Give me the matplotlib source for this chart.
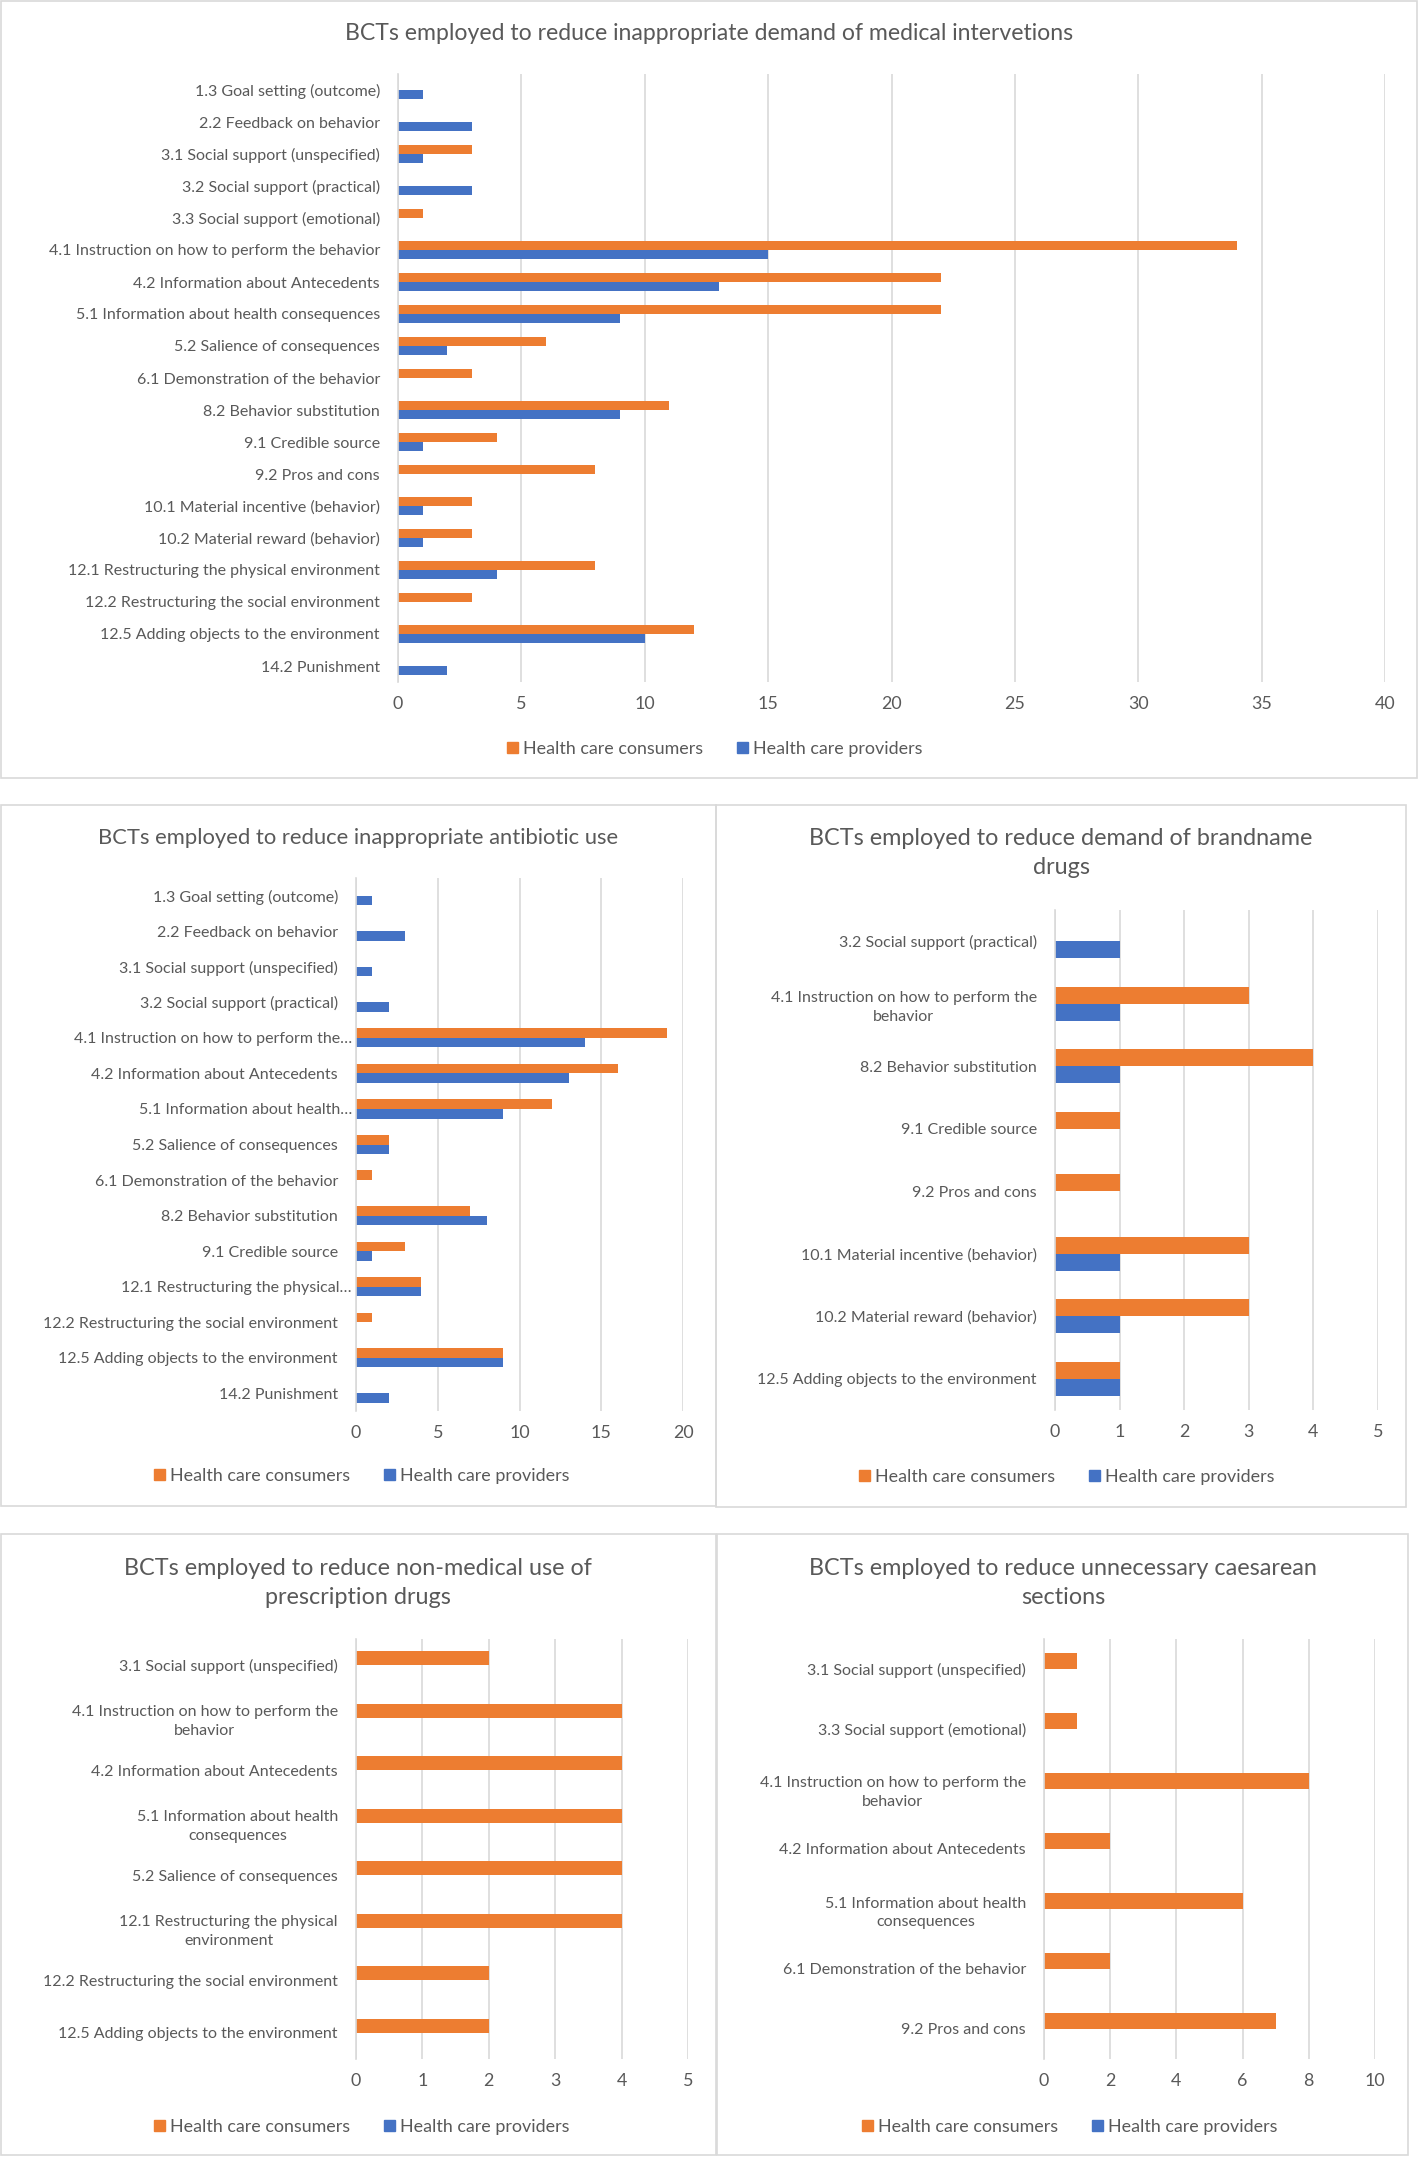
import matplotlib
matplotlib.use("Agg")
import matplotlib.pyplot as plt
from matplotlib.patches import Rectangle, Patch

plt.rcParams['font.family'] = ['Lato', 'DejaVu Sans']

# --- Data ---
cats_med = ["1.3 Goal setting (outcome)", "2.2 Feedback on behavior", "3.1 Social support (unspecified)",
            "3.2 Social support (practical)", "3.3 Social support (emotional)",
            "4.1 Instruction on how to perform the behavior", "4.2 Information about Antecedents",
            "5.1 Information about health consequences", "5.2 Salience of consequences",
            "6.1 Demonstration of the behavior", "8.2 Behavior substitution", "9.1 Credible source",
            "9.2 Pros and cons", "10.1 Material incentive (behavior)", "10.2 Material reward (behavior)",
            "12.1 Restructuring the physical environment", "12.2 Restructuring the social environment",
            "12.5 Adding objects to the environment", "14.2 Punishment"]
cons_med = [0, 0, 3, 0, 1, 34, 22, 22, 6, 3, 11, 4, 8, 3, 3, 8, 3, 12, 0]
prov_med = [1, 3, 1, 3, 0, 15, 13, 9, 2, 0, 9, 1, 0, 1, 1, 4, 0, 10, 2]

cats_abx = ["1.3 Goal setting (outcome)", "2.2 Feedback on behavior", "3.1 Social support (unspecified)",
            "3.2 Social support (practical)", "4.1 Instruction on how to perform the\u2026",
            "4.2 Information about Antecedents", "5.1 Information about health\u2026",
            "5.2 Salience of consequences", "6.1 Demonstration of the behavior", "8.2 Behavior substitution",
            "9.1 Credible source", "12.1 Restructuring the physical\u2026",
            "12.2 Restructuring the social environment", "12.5 Adding objects to the environment",
            "14.2 Punishment"]
cons_abx = [0, 0, 0, 0, 19, 16, 12, 2, 1, 7, 3, 4, 1, 9, 0]
prov_abx = [1, 3, 1, 2, 14, 13, 9, 2, 0, 8, 1, 4, 0, 9, 2]

cats_brand = ["3.2 Social support (practical)", "4.1 Instruction on how to perform the\nbehavior",
              "8.2 Behavior substitution", "9.1 Credible source", "9.2 Pros and cons",
              "10.1 Material incentive (behavior)", "10.2 Material reward (behavior)",
              "12.5 Adding objects to the environment"]
cons_brand = [0, 3, 4, 1, 1, 3, 3, 1]
prov_brand = [1, 1, 1, 0, 0, 1, 1, 1]

cats_rx = ["3.1 Social support (unspecified)", "4.1 Instruction on how to perform the\nbehavior",
           "4.2 Information about Antecedents", "5.1 Information about health\nconsequences",
           "5.2 Salience of consequences", "12.1 Restructuring the physical\nenvironment",
           "12.2 Restructuring the social environment", "12.5 Adding objects to the environment"]
cons_rx = [2, 4, 4, 4, 4, 4, 2, 2]
prov_rx = [0, 0, 0, 0, 0, 0, 0, 0]

cats_cs = ["3.1 Social support (unspecified)", "3.3 Social support (emotional)",
           "4.1 Instruction on how to perform the\nbehavior", "4.2 Information about Antecedents",
           "5.1 Information about health\nconsequences", "6.1 Demonstration of the behavior",
           "9.2 Pros and cons"]
cons_cs = [1, 1, 8, 2, 6, 2, 7]
prov_cs = [0, 0, 0, 0, 0, 0, 0]

ORANGE = "#ED7D31"
BLUE = "#4472C4"
TXT = "#595959"
GRID = "#D9D9D9"
W, H = 1419, 2157

fig = plt.figure(figsize=(W / 100, H / 100), dpi=100)


def fx(px):
    return px / W


def fy(py):
    return 1 - py / H


def panel(box, rect, title, title_xy, title_size, cats, cons, prov, xmax, step, legend_xy):
    # panel border
    x0, y0, x1, y1 = box
    fig.patches.append(Rectangle((fx(x0), fy(y1)), fx(x1 - x0), (y1 - y0) / H,
                                 transform=fig.transFigure, fill=False,
                                 edgecolor=GRID, lw=1.2))
    l, r, t, b = rect
    ax = fig.add_axes([fx(l), fy(b), fx(r - l), (b - t) / H])
    n = len(cats)
    ys = list(range(n))
    bw = 0.27
    ax.barh([y - bw / 2 for y in ys], cons, height=bw, color=ORANGE)
    ax.barh([y + bw / 2 for y in ys], prov, height=bw, color=BLUE)
    ax.set_ylim(n - 0.5, -0.5)
    ax.set_xlim(0, xmax)
    ax.set_xticks(range(0, xmax + 1, step))
    ax.set_yticks(ys)
    ax.set_yticklabels(cats, multialignment='center', linespacing=1.45)
    ax.tick_params(axis='both', length=0, colors=TXT)
    ax.tick_params(axis='x', pad=10, labelsize=12.9)
    ax.tick_params(axis='y', pad=13, labelsize=11.5)
    for tk, c in zip(ax.yaxis.get_major_ticks(), cats):
        if c.endswith("\u2026"):
            tk.set_pad(3)
    ax.grid(axis='x', color=GRID, lw=1.2)
    ax.set_axisbelow(True)
    for s in ['top', 'right', 'bottom']:
        ax.spines[s].set_visible(False)
    ax.spines['left'].set_color(GRID)
    ax.spines['left'].set_linewidth(1.2)
    fig.text(fx(title_xy[0]), fy(title_xy[1]), title, ha='center', va='center',
             fontsize=title_size, color=TXT, linespacing=1.45)
    handles = [Patch(color=ORANGE, label="Health care consumers"),
               Patch(color=BLUE, label="Health care providers")]
    fig.legend(handles=handles, loc='center', ncol=2,
               bbox_to_anchor=(fx(legend_xy[0]), fy(legend_xy[1])),
               frameon=False, fontsize=12.9, labelcolor=TXT,
               handlelength=0.6, handleheight=0.6, handletextpad=0.3,
               columnspacing=1.9)
    return ax


panel((1, 1, 1417, 778), (398, 1385, 74, 682),
      "BCTs employed to reduce inappropriate demand of medical intervetions", (709, 33), 16.6,
      cats_med, cons_med, prov_med, 40, 5, (715, 749))
panel((1, 805, 716, 1506), (356, 683, 878, 1411),
      "BCTs employed to reduce inappropriate antibiotic use", (358, 838), 15.8,
      cats_abx, cons_abx, prov_abx, 20, 5, (362, 1476))
panel((716, 805, 1406, 1507), (1055, 1378, 910, 1410),
      "BCTs employed to reduce demand of brandname\ndrugs", (1061, 853), 16.8,
      cats_brand, cons_brand, prov_brand, 5, 1, (1067, 1477))
panel((1, 1534, 716, 2155), (356, 688, 1639, 2059),
      "BCTs employed to reduce non-medical use of\nprescription drugs", (358, 1583), 16.8,
      cats_rx, cons_rx, prov_rx, 5, 1, (362, 2127))
panel((717, 1534, 1408, 2155), (1044, 1375, 1639, 2059),
      "BCTs employed to reduce unnecessary caesarean\nsections", (1063, 1583), 16.8,
      cats_cs, cons_cs, prov_cs, 10, 2, (1070, 2127))

fig.savefig("out.png", dpi=100)
